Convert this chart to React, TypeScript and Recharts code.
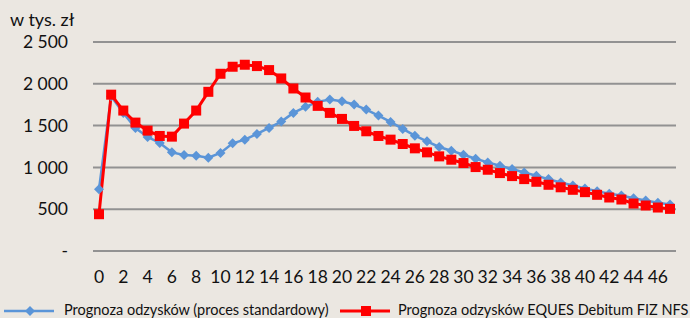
import React from "react";
import { LineChart, Line, XAxis, YAxis, CartesianGrid } from "recharts";

const periods = [
  "0", "1", "2", "3", "4", "5", "6", "7", "8", "9", "10", "11", "12", "13", "14", "15",
  "16", "17", "18", "19", "20", "21", "22", "23", "24", "25", "26", "27", "28", "29", "30", "31",
  "32", "33", "34", "35", "36", "37", "38", "39", "40", "41", "42", "43", "44", "45", "46", "47",
];

// prognoza odzysków - proces standardowy
const standardowy = [
  740, 1850, 1650, 1470, 1364, 1292, 1180, 1148, 1140, 1116, 1172, 1288, 1332, 1400, 1472, 1548,
  1652, 1724, 1784, 1812, 1792, 1752, 1692, 1620, 1544, 1460, 1380, 1312, 1244, 1200, 1152, 1104,
  1060, 1020, 980, 940, 900, 860, 820, 784, 748, 716, 684, 664, 632, 604, 576, 556,
];

// prognoza odzysków - EQUES Debitum FIZ NFS
const eques = [
  440, 1870, 1680, 1536, 1440, 1376, 1368, 1524, 1680, 1904, 2120, 2204, 2228, 2212, 2164, 2064,
  1944, 1836, 1736, 1652, 1580, 1496, 1432, 1376, 1332, 1280, 1228, 1180, 1132, 1092, 1052, 1004,
  972, 932, 896, 860, 828, 792, 762, 732, 704, 672, 640, 616, 568, 544, 520, 504,
];

const yTicks = [0, 500, 1000, 1500, 2000, 2500];

const seriesNames = [
  "Prognoza odzysków (proces standardowy)",
  "Prognoza odzysków EQUES Debitum FIZ NFS",
];

const data = periods.map((p, i) => ({ okres: p, standardowy: standardowy[i], eques: eques[i] }));

const BLUE = "#5B95D8";
const RED = "#FF0000";
const FONT = "Lato, 'Open Sans', sans-serif";

const formatTick = (v: number) => (v === 0 ? "-" : v.toLocaleString("en-US").replace(",", " "));

const Diamond = (props: any) => {
  const { cx, cy } = props;
  if (cx == null || cy == null) return null;
  return <polygon points={`${cx},${cy - 5} ${cx + 5},${cy} ${cx},${cy + 5} ${cx - 5},${cy}`} fill={BLUE} />;
};

const Square = (props: any) => {
  const { cx, cy } = props;
  if (cx == null || cy == null) return null;
  return <rect x={cx - 5} y={cy - 5} width={10} height={10} fill={RED} />;
};

export default function App() {
  return (
    <div style={{ position: "absolute", left: 0, top: 0, width: 690, height: 318, background: "#EBE7E1", fontFamily: FONT, overflow: "hidden" }}>
      <div style={{ position: "absolute", left: 10, top: 8, fontSize: 18, color: "#111" }}>w tys. zł</div>
      <LineChart width={690} height={318} data={data} margin={{ top: 42, right: 14, left: 0, bottom: 0 }}>
        <CartesianGrid horizontal vertical={false} stroke="#929292" strokeWidth={2} />
        <XAxis
          dataKey="okres"
          interval={1}
          axisLine={false}
          tickLine={false}
          tickSize={0}
          tickMargin={20}
          height={67}
          padding={{ left: 6, right: 6 }}
          tick={{ fill: "#111", fontSize: 17.5, fontFamily: FONT }}
        />
        <YAxis
          domain={[0, 2500]}
          ticks={yTicks}
          width={93}
          axisLine={false}
          tickLine={false}
          tickSize={0}
          tickMargin={25}
          tickFormatter={formatTick}
          tick={{ fill: "#111", fontSize: 17.5, fontFamily: FONT }}
        />
        <Line
          type="linear"
          dataKey="standardowy"
          name={seriesNames[0]}
          stroke={BLUE}
          strokeWidth={2.5}
          dot={<Diamond />}
          isAnimationActive={false}
        />
        <Line
          type="linear"
          dataKey="eques"
          name={seriesNames[1]}
          stroke={RED}
          strokeWidth={3}
          dot={<Square />}
          isAnimationActive={false}
        />
      </LineChart>
      <div style={{ position: "absolute", left: 0, top: 301, width: 690, height: 18, fontSize: 14.5, color: "#111", whiteSpace: "nowrap" }}>
        <svg width={52} height={18} style={{ position: "absolute", left: 4, top: 1 }}>
          <line x1={0} y1={9} x2={50} y2={9} stroke={BLUE} strokeWidth={2.5} />
          <polygon points="26,4 31,9 26,14 21,9" fill={BLUE} />
        </svg>
        <span style={{ position: "absolute", left: 64, top: 0 }}>{seriesNames[0]}</span>
        <svg width={52} height={18} style={{ position: "absolute", left: 340, top: 1 }}>
          <line x1={0} y1={9} x2={50} y2={9} stroke={RED} strokeWidth={3} />
          <rect x={21} y={4} width={10} height={10} fill={RED} />
        </svg>
        <span style={{ position: "absolute", left: 398, top: 0 }}>{seriesNames[1]}</span>
      </div>
    </div>
  );
}
